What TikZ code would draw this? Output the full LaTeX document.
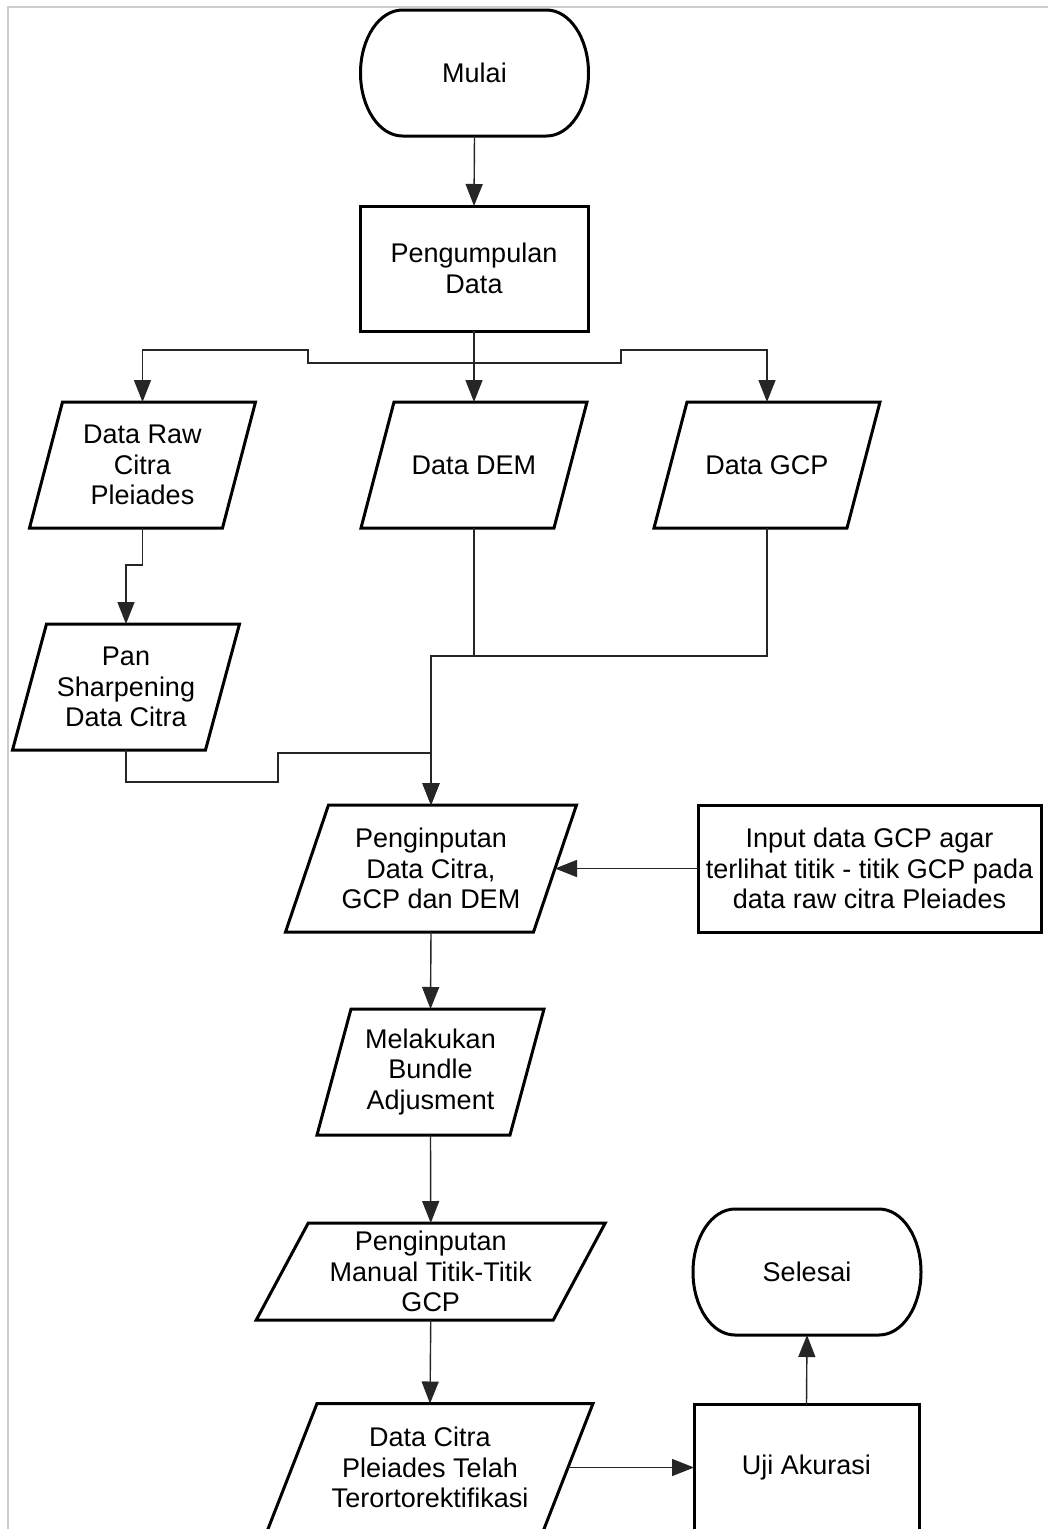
\documentclass[tikz,border=0pt]{standalone}
\usepackage{fontspec}
\setmainfont{Liberation Sans}
\usetikzlibrary{arrows.meta}
\tikzset{
  box/.style={draw=black, line width=3pt, line join=miter},
  txt/.style={rectangle, inner sep=0pt, outer sep=0pt, align=center, font=\fontsize{27}{30.5}\selectfont},
  conn/.style={line width=1.4pt, draw=black!85},
  arr/.style={conn, -{Triangle[length=22pt,width=17pt]}},
}
% parallelogram: name, x, y, width, height, half slant, text
\newcommand{\ppara}[7]{%
  \node[txt, minimum width=#4pt, minimum height=#5pt] (#1) at (#2,#3) {#7};
  \draw[box] ([xshift=-#6pt]#1.south west) -- ([xshift=#6pt]#1.north west) -- ([xshift=#6pt]#1.north east) -- ([xshift=-#6pt]#1.south east) -- cycle;
}
% terminator: name, x, y, text
\newcommand{\tterm}[4]{%
  \node[txt, minimum width=228pt, minimum height=126pt] (#1) at (#2,#3) {#4};
  \draw[box] ([xshift=42pt]#1.north west) -- ([xshift=-42pt]#1.north east)
    .. controls +(23.2pt,0pt) and +(0pt,34.8pt) .. (#1.east)
    .. controls +(0pt,-34.8pt) and +(23.2pt,0pt) .. ([xshift=-42pt]#1.south east)
    -- ([xshift=42pt]#1.south west)
    .. controls +(-23.2pt,0pt) and +(0pt,-34.8pt) .. (#1.west)
    .. controls +(0pt,34.8pt) and +(-23.2pt,0pt) .. ([xshift=42pt]#1.north west) -- cycle;
}
\begin{document}
\begin{tikzpicture}[x=1pt, y=-1pt]
\useasboundingbox (0,0) rectangle (1048,1529);
\fill[white] (0,0) rectangle (1048,1529);
\draw[gray!40, line width=1.5pt] (8,1529) -- (8,7) -- (1048,7);

\tterm{mulai}{474.5}{73}{Mulai}
\node[txt, box, minimum width=228pt, minimum height=125pt] (peng) at (474,268.5) {Pengumpulan\\Data};

\ppara{raw}{142.5}{465}{193}{126}{16.5}{Data Raw\\Citra\\Pleiades}
\ppara{dem}{474}{465}{193}{126}{16.5}{Data DEM}
\ppara{gcp}{767}{465}{193}{126}{16.5}{Data GCP}
\ppara{pan}{126}{687}{193}{126}{17}{Pan\\Sharpening\\Data Citra}
\ppara{inp}{431}{868.5}{248}{127}{21.5}{Penginputan\\Data Citra,\\GCP dan DEM}
\node[txt, box, minimum width=343pt, minimum height=127pt] (gcpin) at (869.5,868.5) {Input data GCP agar\\terlihat titik - titik GCP pada\\data raw citra Pleiades};
\ppara{bundle}{430.5}{1072}{193}{126}{17}{Melakukan\\Bundle\\Adjusment}
\ppara{manual}{430.75}{1271.5}{297}{97}{26}{Penginputan\\Manual Titik-Titik\\GCP}
\ppara{citra}{430}{1467.5}{276}{128}{25}{Data Citra\\Pleiades Telah\\Terortorektifikasi}
\node[txt, box, minimum width=225pt, minimum height=126pt] (uji) at (806.5,1467.5) {Uji Akurasi};
\tterm{selesai}{807}{1272}{Selesai}

% connectors
\draw[arr] (mulai.south) -- (peng.north);
\draw[arr] (peng.south) -- (dem.north);
\draw[arr] (peng.south) |- (308,363) -- (308,350) -| (raw.north);
\draw[arr] (peng.south) |- (621,363) -- (621,350) -| (gcp.north);
\draw[arr] (raw.south) -- ++(0,37) -| (pan.north);
\draw[arr] (pan.south) |- (278,782) -- (278,753) -| (inp.north);
\draw[arr] (dem.south) -- (474,656) -| (inp.north);
\draw[arr] (gcp.south) -- (767,656) -| (inp.north);
\draw[arr] (gcpin.west) -- (inp.east);
\draw[arr] (inp.south) -- (bundle.north);
\draw[arr] (bundle.south) -- (manual.north);
\draw[arr] (manual.south) -- (citra.north);
\draw[arr] (citra.east) -- (uji.west);
\draw[arr] (uji.north) -- (selesai.south);
\end{tikzpicture}
\end{document}
